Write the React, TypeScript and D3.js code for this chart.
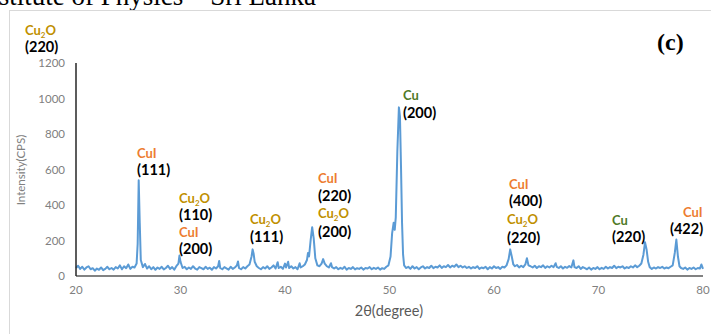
import React from "react";
import * as d3 from "d3";

const W = 711;
const H = 334;

// XRD pattern: [2θ (degree), intensity (CPS)]
const pattern: [number, number][] = [
  [20.0, 45], [20.2, 58], [20.4, 40], [20.6, 52], [20.8, 36], [21.0, 48], [21.2, 55], [21.4, 38],
  [21.6, 44], [21.8, 30], [22.0, 42], [22.2, 35], [22.4, 48], [22.6, 33], [22.8, 40], [23.0, 52],
  [23.2, 38], [23.4, 45], [23.6, 36], [23.8, 50], [24.0, 42], [24.2, 60], [24.4, 38], [24.6, 55],
  [24.8, 44], [25.0, 65], [25.2, 40], [25.4, 52], [25.6, 48], [25.8, 70], [25.9, 180], [26.0, 540],
  [26.1, 300], [26.2, 90], [26.4, 50], [26.6, 68], [26.8, 42], [27.0, 55], [27.2, 38], [27.4, 50],
  [27.6, 35], [27.8, 48], [28.0, 40], [28.2, 52], [28.4, 37], [28.6, 45], [28.8, 58], [29.0, 40],
  [29.2, 50], [29.4, 36], [29.6, 55], [29.8, 70], [29.9, 115], [30.0, 80], [30.2, 45], [30.4, 52],
  [30.6, 38], [30.8, 48], [31.0, 40], [31.2, 55], [31.4, 42], [31.6, 36], [31.8, 50], [32.0, 44],
  [32.2, 38], [32.4, 52], [32.6, 40], [32.8, 47], [33.0, 35], [33.2, 50], [33.4, 42], [33.6, 55],
  [33.7, 85], [33.8, 45], [34.0, 38], [34.2, 50], [34.4, 43], [34.6, 36], [34.8, 52], [35.0, 40],
  [35.2, 48], [35.4, 60], [35.5, 82], [35.6, 45], [35.8, 38], [36.0, 50], [36.2, 42], [36.4, 55],
  [36.6, 65], [36.8, 110], [36.9, 150], [37.0, 125], [37.1, 80], [37.3, 55], [37.5, 45], [37.7, 38],
  [37.9, 50], [38.1, 42], [38.3, 55], [38.5, 40], [38.7, 48], [38.9, 60], [39.1, 42], [39.3, 78],
  [39.4, 45], [39.6, 52], [39.8, 40], [40.0, 70], [40.1, 48], [40.3, 80], [40.4, 45], [40.6, 55],
  [40.8, 42], [41.0, 50], [41.2, 38], [41.4, 72], [41.5, 48], [41.7, 55], [41.9, 65], [42.1, 90],
  [42.2, 130], [42.3, 110], [42.45, 200], [42.6, 275], [42.75, 210], [42.9, 100], [43.1, 60], [43.3, 55],
  [43.5, 70], [43.65, 95], [43.8, 70], [44.0, 55], [44.2, 48], [44.4, 72], [44.5, 50], [44.7, 42],
  [44.9, 50], [45.1, 38], [45.3, 46], [45.5, 40], [45.7, 52], [45.9, 36], [46.1, 45], [46.3, 40],
  [46.5, 50], [46.7, 37], [46.9, 44], [47.1, 40], [47.3, 48], [47.5, 36], [47.7, 45], [47.9, 42],
  [48.1, 50], [48.3, 38], [48.5, 46], [48.7, 40], [48.9, 48], [49.1, 36], [49.3, 44], [49.5, 40],
  [49.7, 52], [49.9, 60], [50.1, 110], [50.25, 240], [50.4, 300], [50.5, 260], [50.6, 330], [50.75, 700],
  [50.9, 950], [51.0, 900], [51.1, 620], [51.2, 300], [51.3, 120], [51.4, 60], [51.6, 45], [51.8, 52],
  [52.0, 40], [52.2, 55], [52.4, 42], [52.6, 50], [52.8, 38], [53.0, 48], [53.2, 55], [53.4, 42],
  [53.6, 50], [53.8, 45], [54.0, 58], [54.2, 44], [54.4, 52], [54.6, 48], [54.8, 60], [55.0, 46],
  [55.2, 55], [55.4, 50], [55.6, 62], [55.8, 48], [56.0, 58], [56.2, 52], [56.4, 65], [56.6, 50],
  [56.8, 58], [57.0, 48], [57.2, 55], [57.4, 45], [57.6, 52], [57.8, 42], [58.0, 50], [58.2, 45],
  [58.4, 55], [58.6, 40], [58.8, 48], [59.0, 44], [59.2, 52], [59.4, 38], [59.6, 50], [59.8, 42],
  [60.0, 55], [60.2, 45], [60.4, 50], [60.6, 40], [60.8, 52], [61.0, 48], [61.2, 60], [61.4, 95],
  [61.55, 150], [61.7, 110], [61.85, 65], [62.0, 55], [62.2, 62], [62.4, 48], [62.6, 58], [62.8, 50],
  [63.0, 65], [63.15, 100], [63.3, 60], [63.5, 55], [63.7, 48], [63.9, 58], [64.1, 45], [64.3, 55],
  [64.5, 50], [64.7, 60], [64.9, 46], [65.1, 55], [65.3, 48], [65.5, 58], [65.7, 50], [65.9, 72],
  [66.0, 52], [66.2, 45], [66.4, 55], [66.6, 42], [66.8, 52], [67.0, 46], [67.2, 56], [67.4, 48],
  [67.6, 88], [67.7, 50], [67.9, 45], [68.1, 55], [68.3, 40], [68.5, 50], [68.7, 44], [68.9, 38],
  [69.1, 48], [69.3, 36], [69.5, 45], [69.7, 40], [69.9, 50], [70.1, 38], [70.3, 46], [70.5, 40],
  [70.7, 52], [70.9, 42], [71.1, 50], [71.3, 45], [71.5, 58], [71.7, 44], [71.9, 52], [72.1, 48],
  [72.3, 55], [72.5, 42], [72.7, 50], [72.9, 45], [73.1, 55], [73.3, 48], [73.5, 60], [73.7, 50],
  [73.9, 58], [74.1, 70], [74.3, 120], [74.45, 190], [74.6, 150], [74.75, 80], [74.9, 50], [75.1, 40],
  [75.3, 48], [75.5, 42], [75.7, 50], [75.9, 45], [76.1, 52], [76.3, 42], [76.5, 48], [76.7, 44],
  [76.9, 52], [77.1, 60], [77.3, 130], [77.45, 205], [77.6, 110], [77.75, 55], [77.9, 45], [78.1, 40],
  [78.3, 48], [78.5, 36], [78.7, 45], [78.9, 40], [79.1, 48], [79.3, 38], [79.5, 45], [79.7, 42],
  [79.85, 65], [80.0, 40],
];

const xTicks = [20, 30, 40, 50, 60, 70, 80];
const yTicks = [0, 200, 400, 600, 800, 1000, 1200];

// Peak annotations: [text, kind, 2θ position, CPS position]
const annotations: [string, string, number, number][] = [
  ["Cu2O", "Cu2O", 15.12, 1358], ["(220)", "hkl", 15.12, 1262],
  ["CuI", "CuI", 25.84, 665], ["(111)", "hkl", 25.84, 569],
  ["Cu2O", "Cu2O", 29.86, 411], ["(110)", "hkl", 29.86, 315],
  ["CuI", "CuI", 29.86, 220], ["(200)", "hkl", 29.86, 124],
  ["Cu2O", "Cu2O", 36.65, 293], ["(111)", "hkl", 36.65, 192],
  ["CuI", "CuI", 43.16, 524], ["(220)", "hkl", 43.16, 423],
  ["Cu2O", "Cu2O", 43.16, 327], ["(200)", "hkl", 43.16, 220],
  ["Cu", "Cu", 51.29, 992], ["(200)", "hkl", 51.29, 890],
  ["CuI", "CuI", 61.44, 490], ["(400)", "hkl", 61.44, 394],
  ["Cu2O", "Cu2O", 61.24, 293], ["(220)", "hkl", 61.24, 186],
  ["Cu", "Cu", 71.29, 287], ["(220)", "hkl", 71.29, 192],
  ["CuI", "CuI", 78.09, 332], ["(422)", "hkl", 76.84, 237],
];

const kindColor: Record<string, string> = {
  CuI: "#ed7d31",
  Cu2O: "#bf9000",
  Cu: "#4f7a28",
  hkl: "#000000",
};

const FONT = "Lato, 'Open Sans', sans-serif";

export default function App() {
  const x = d3.scaleLinear().domain([20, 80]).range([76, 703]);
  const y = d3.scaleLinear().domain([0, 1200]).range([276, 63]);
  const line = d3
    .line<[number, number]>()
    .x((d) => x(d[0]))
    .y((d) => y(d[1]));

  return (
    <svg
      width={W}
      height={H}
      style={{ position: "absolute", left: 0, top: 0, display: "block", background: "#fff" }}
    >
      <rect x={0} y={0} width={W} height={H} fill="#fff" />
      <text
        x={316}
        y={5}
        textAnchor="end"
        fontFamily="'Liberation Serif', 'DejaVu Serif', serif"
        fontSize={27}
        fill="#000"
      >
        Institute of Physics – Sri Lanka
      </text>
      <rect x={9.5} y={10.5} width={720} height={340} fill="#fff" stroke="#d9d9d9" strokeWidth={1} />
      <text
        x={657}
        y={50}
        fontFamily="'Liberation Serif', serif"
        fontWeight="bold"
        fontSize={24}
        fill="#000"
      >
        (c)
      </text>

      {/* y tick labels */}
      {yTicks.map((t) => (
        <text
          key={"y" + t}
          x={65}
          y={y(t)}
          dy="0.35em"
          textAnchor="end"
          fontFamily={FONT}
          fontSize={11.5}
          fill="#808080"
        >
          {t}
        </text>
      ))}
      {/* x tick labels */}
      {xTicks.map((t) => (
        <text
          key={"x" + t}
          x={x(t)}
          y={294}
          textAnchor="middle"
          fontFamily={FONT}
          fontSize={11.5}
          fill="#808080"
        >
          {t}
        </text>
      ))}

      <path d={line(pattern) || ""} fill="none" stroke="#5b9bd5" strokeWidth={2} strokeLinejoin="round" />

      {/* axes */}
      <line x1={x(20)} x2={x(80)} y1={y(0)} y2={y(0)} stroke="#595959" strokeWidth={1.5} />
      <line x1={x(20)} x2={x(20)} y1={y(0)} y2={y(1200)} stroke="#262626" strokeWidth={1.5} />

      <text
        x={389}
        y={316}
        textAnchor="middle"
        fontFamily={FONT}
        fontSize={14.5}
        fill="#595959"
      >
        2θ(degree)
      </text>
      <text
        transform={`translate(25,${170}) rotate(-90)`}
        textAnchor="middle"
        fontFamily={FONT}
        fontSize={11.5}
        fill="#808080"
      >
        Intensity(CPS)
      </text>

      {annotations.map(([txt, kind, deg, cps], i) => (
        <text
          key={"a" + i}
          x={x(deg)}
          y={y(cps)}
          fontFamily={FONT}
          fontWeight="bold"
          fontSize={kind === "hkl" ? 14.5 : 13}
          fill={kindColor[kind]}
        >
          {txt === "Cu2O" ? (
            <>
              Cu
              <tspan fontSize={8} dy={3}>
                2
              </tspan>
              <tspan dy={-3}>O</tspan>
            </>
          ) : (
            txt
          )}
        </text>
      ))}
    </svg>
  );
}
